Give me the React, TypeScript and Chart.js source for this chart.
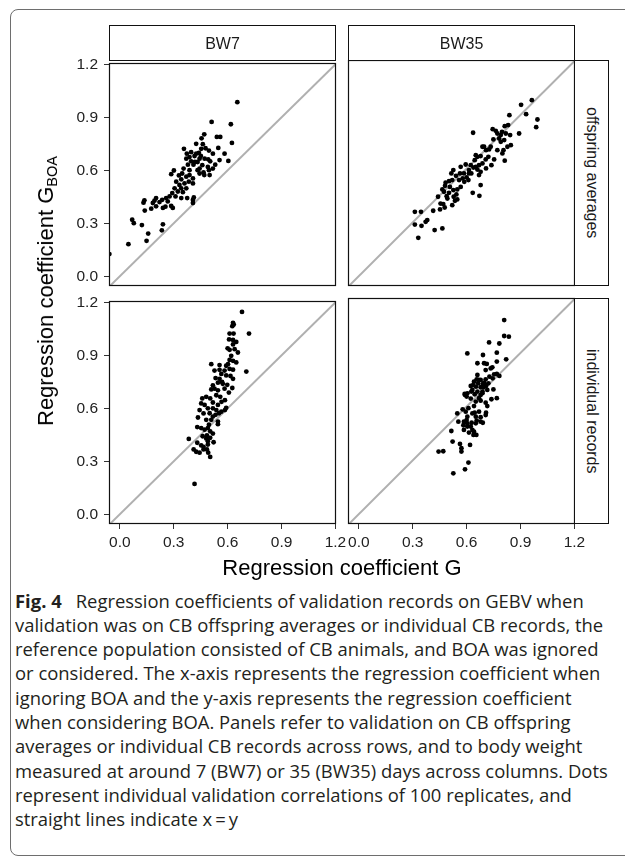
import React, { useEffect, useLayoutEffect, useRef, useState } from "react";
import { Chart, registerables } from "chart.js";

Chart.register(...registerables);

// ---------- data ----------
const columnLabels = ["BW7", "BW35"];
const rowLabels = ["offspring averages", "individual records"];
const tickValues = [0, 0.3, 0.6, 0.9, 1.2];
const xRange = [-0.06, 1.203];
const yRange = [-0.055, 1.206];
const identityLine = [-0.2, 1.4];

// BW7, validation on offspring averages: [G, G_BOA]
const bw7Averages: [number, number][] = [
  [0.654, 0.986], [0.618, 0.861], [0.511, 0.874], [0.624, 0.755], [0.604, 0.653], [0.54, 0.789], [0.559, 0.789], [0.47, 0.804], [0.455, 0.781], [0.548, 0.727],
  [0.518, 0.694], [0.555, 0.658], [0.531, 0.632], [0.462, 0.748], [0.357, 0.722], [0.44, 0.699], [0.425, 0.694], [0.451, 0.681], [0.416, 0.681], [0.388, 0.675],
  [0.37, 0.666], [0.397, 0.651], [0.379, 0.632], [0.41, 0.632], [0.433, 0.647], [0.459, 0.629], [0.49, 0.619], [0.444, 0.582], [0.466, 0.588], [0.496, 0.601],
  [0.518, 0.61], [0.286, 0.578], [0.347, 0.582], [0.37, 0.564], [0.342, 0.549], [0.407, 0.554], [0.384, 0.536], [0.314, 0.536], [0.332, 0.517], [0.36, 0.526],
  [0.407, 0.526], [0.305, 0.498], [0.342, 0.498], [0.37, 0.498], [0.292, 0.471], [0.323, 0.48], [0.351, 0.476], [0.277, 0.452], [0.31, 0.452], [0.258, 0.443],
  [0.236, 0.433], [0.221, 0.42], [0.202, 0.396], [0.193, 0.428], [0.24, 0.387], [0.254, 0.394], [0.286, 0.398], [0.295, 0.387], [0.407, 0.415], [0.412, 0.446],
  [0.407, 0.432], [0.137, 0.43], [0.132, 0.417], [0.175, 0.383], [0.184, 0.415], [0.139, 0.372], [0.069, 0.32], [0.078, 0.301], [0.123, 0.29], [0.24, 0.294],
  [0.234, 0.26], [0.158, 0.242], [0.149, 0.201], [0.048, 0.182], [-0.058, 0.126], [0.301, 0.599], [0.355, 0.61], [0.388, 0.601], [0.477, 0.725], [0.496, 0.712],
  [0.444, 0.666], [0.472, 0.666], [0.492, 0.662], [0.453, 0.722], [0.433, 0.601], [0.47, 0.573], [0.5, 0.573], [0.329, 0.571], [0.388, 0.573], [0.342, 0.443],
  [0.375, 0.443], [0.444, 0.61], [0.397, 0.703], [0.267, 0.424], [0.202, 0.443], [0.373, 0.694], [0.425, 0.75], [0.418, 0.647], [0.503, 0.651], [0.583, 0.694],
];

// BW35, validation on offspring averages
const bw35Averages: [number, number][] = [
  [0.963, 0.982], [0.903, 0.956], [0.931, 0.904], [0.994, 0.874], [0.987, 0.831], [0.838, 0.898], [0.892, 0.796], [0.745, 0.82], [0.762, 0.811], [0.79, 0.787],
  [0.812, 0.837], [0.831, 0.843], [0.781, 0.768], [0.797, 0.805], [0.842, 0.787], [0.636, 0.8], [0.749, 0.763], [0.734, 0.722], [0.688, 0.722], [0.708, 0.703],
  [0.846, 0.731], [0.827, 0.722], [0.805, 0.703], [0.799, 0.685], [0.812, 0.644], [0.753, 0.651], [0.738, 0.619], [0.678, 0.67], [0.651, 0.675], [0.645, 0.647],
  [0.688, 0.629], [0.708, 0.601], [0.669, 0.619], [0.66, 0.595], [0.638, 0.606], [0.595, 0.623], [0.567, 0.61], [0.613, 0.592], [0.626, 0.573], [0.678, 0.582],
  [0.669, 0.564], [0.6, 0.551], [0.578, 0.545], [0.587, 0.526], [0.61, 0.536], [0.526, 0.592], [0.515, 0.573], [0.541, 0.56], [0.483, 0.521], [0.502, 0.53],
  [0.52, 0.536], [0.48, 0.504], [0.507, 0.498], [0.465, 0.484], [0.526, 0.48], [0.548, 0.484], [0.678, 0.508], [0.634, 0.465], [0.671, 0.448], [0.441, 0.443],
  [0.489, 0.446], [0.493, 0.433], [0.543, 0.456], [0.548, 0.428], [0.47, 0.402], [0.452, 0.372], [0.478, 0.383], [0.414, 0.365], [0.312, 0.359], [0.346, 0.359],
  [0.381, 0.313], [0.372, 0.303], [0.312, 0.288], [0.349, 0.281], [0.422, 0.257], [0.465, 0.266], [0.331, 0.214], [0.52, 0.396], [0.535, 0.42], [0.567, 0.498],
  [0.623, 0.619], [0.651, 0.61], [0.721, 0.666], [0.706, 0.651], [0.771, 0.703], [0.79, 0.75], [0.818, 0.796], [0.771, 0.796], [0.66, 0.666], [0.613, 0.573],
  [0.563, 0.573], [0.502, 0.465], [0.528, 0.443], [0.455, 0.405], [0.697, 0.722], [0.725, 0.707], [0.585, 0.573], [0.558, 0.536], [0.474, 0.471], [0.809, 0.759],
];

// BW7, validation on individual records
const bw7Individual: [number, number][] = [
  [0.68, 1.146], [0.719, 1.023], [0.704, 0.808], [0.63, 1.084], [0.634, 1.074], [0.626, 1.065], [0.611, 1.023], [0.633, 1.023], [0.608, 0.99], [0.63, 0.987],
  [0.648, 0.976], [0.639, 0.935], [0.657, 0.916], [0.611, 0.931], [0.62, 0.897], [0.63, 0.869], [0.648, 0.86], [0.602, 0.85], [0.592, 0.841], [0.555, 0.845],
  [0.509, 0.85], [0.611, 0.823], [0.63, 0.819], [0.583, 0.814], [0.565, 0.795], [0.592, 0.786], [0.63, 0.767], [0.555, 0.767], [0.533, 0.771], [0.573, 0.739],
  [0.546, 0.745], [0.598, 0.733], [0.626, 0.715], [0.518, 0.73], [0.509, 0.707], [0.546, 0.702], [0.607, 0.689], [0.537, 0.674], [0.481, 0.665], [0.503, 0.656],
  [0.559, 0.665], [0.585, 0.646], [0.453, 0.628], [0.472, 0.619], [0.518, 0.633], [0.546, 0.619], [0.444, 0.59], [0.49, 0.6], [0.537, 0.59], [0.565, 0.581],
  [0.592, 0.603], [0.585, 0.59], [0.466, 0.571], [0.435, 0.548], [0.518, 0.553], [0.552, 0.572], [0.481, 0.535], [0.509, 0.535], [0.546, 0.525], [0.546, 0.51],
  [0.496, 0.507], [0.431, 0.494], [0.49, 0.488], [0.503, 0.47], [0.518, 0.457], [0.485, 0.447], [0.481, 0.429], [0.384, 0.427], [0.49, 0.414], [0.522, 0.408],
  [0.431, 0.405], [0.453, 0.39], [0.466, 0.382], [0.49, 0.395], [0.411, 0.367], [0.425, 0.354], [0.444, 0.349], [0.485, 0.367], [0.492, 0.349], [0.503, 0.325],
  [0.416, 0.172], [0.527, 0.814], [0.555, 0.818], [0.453, 0.488], [0.472, 0.479], [0.533, 0.563], [0.518, 0.6], [0.566, 0.637], [0.5, 0.572], [0.459, 0.656],
  [0.527, 0.711], [0.583, 0.711], [0.616, 0.783], [0.63, 0.962], [0.466, 0.367], [0.461, 0.442], [0.503, 0.433], [0.611, 0.874], [0.569, 0.749], [0.6, 0.94],
];

// BW35, validation on individual records
const bw35Individual: [number, number][] = [
  [0.809, 1.083], [0.809, 0.994], [0.835, 0.99], [0.725, 0.958], [0.782, 0.952], [0.604, 0.897], [0.691, 0.888], [0.768, 0.901], [0.82, 0.864], [0.768, 0.851],
  [0.697, 0.842], [0.712, 0.838], [0.734, 0.813], [0.743, 0.819], [0.706, 0.804], [0.753, 0.78], [0.768, 0.782], [0.782, 0.771], [0.727, 0.767], [0.706, 0.752],
  [0.678, 0.749], [0.656, 0.752], [0.641, 0.739], [0.664, 0.73], [0.69, 0.726], [0.623, 0.715], [0.652, 0.711], [0.678, 0.708], [0.708, 0.715], [0.749, 0.696],
  [0.632, 0.693], [0.66, 0.684], [0.688, 0.684], [0.604, 0.674], [0.645, 0.669], [0.678, 0.665], [0.589, 0.671], [0.6, 0.656], [0.623, 0.645], [0.768, 0.647],
  [0.738, 0.641], [0.678, 0.633], [0.706, 0.622], [0.641, 0.603], [0.61, 0.591], [0.578, 0.585], [0.715, 0.603], [0.708, 0.566], [0.706, 0.553], [0.632, 0.562],
  [0.645, 0.566], [0.604, 0.544], [0.585, 0.516], [0.554, 0.516], [0.678, 0.541], [0.656, 0.522], [0.69, 0.51], [0.651, 0.507], [0.582, 0.496], [0.604, 0.507],
  [0.623, 0.489], [0.632, 0.47], [0.613, 0.455], [0.638, 0.442], [0.654, 0.442], [0.515, 0.464], [0.522, 0.405], [0.563, 0.392], [0.619, 0.386], [0.571, 0.368],
  [0.571, 0.349], [0.444, 0.349], [0.47, 0.351], [0.61, 0.288], [0.591, 0.25], [0.526, 0.228], [0.591, 0.665], [0.667, 0.749], [0.66, 0.777], [0.697, 0.734],
  [0.721, 0.73], [0.626, 0.684], [0.669, 0.647], [0.651, 0.628], [0.595, 0.572], [0.669, 0.572], [0.6, 0.525], [0.628, 0.51], [0.548, 0.562], [0.688, 0.675],
  [0.641, 0.46], [0.585, 0.47], [0.693, 0.708], [0.715, 0.693], [0.745, 0.758], [0.66, 0.842], [0.604, 0.489], [0.678, 0.516], [0.651, 0.544], [0.636, 0.72],
];

const panelData = [
  [bw7Averages, bw35Averages],
  [bw7Individual, bw35Individual],
];

const captionLines = [
  "validation was on CB offspring averages or individual CB records, the",
  "reference population consisted of CB animals, and BOA was ignored",
  "or considered. The x-axis represents the regression coefficient when",
  "ignoring BOA and the y-axis represents the regression coefficient",
  "when considering BOA. Panels refer to validation on CB offspring",
  "averages or individual CB records across rows, and to body weight",
  "measured at around 7 (BW7) or 35 (BW35) days across columns. Dots",
  "represent individual validation correlations of 100 replicates, and",
];

// ---------- layout ----------
const FONT = "'Liberation Sans', Arial, Helvetica, sans-serif";
const colLeft = [109, 348];
const rowTop = [60, 298];
const PW = 227;
const PH = 226;
const PAD_L = 60;
const PAD_T = 12;
const PAD_R = 16;
const PAD_B = 40;

const panelBorder = {
  id: "panelBorder",
  afterDraw(chart: any) {
    const { ctx, chartArea } = chart;
    const { left, top, right, bottom } = chartArea;
    ctx.save();
    ctx.strokeStyle = "#111";
    ctx.lineWidth = 1.2;
    ctx.strokeRect(Math.round(left) + 0.5, Math.round(top) + 0.5, Math.round(right - left) - 1, Math.round(bottom - top) - 1);
    ctx.restore();
  },
};

type PanelProps = {
  points: [number, number][];
  left: number;
  top: number;
  showX: boolean;
  showY: boolean;
};

function Panel({ points, left, top, showX, showY }: PanelProps) {
  const ref = useRef<HTMLCanvasElement | null>(null);
  useEffect(() => {
    const canvas = ref.current;
    if (!canvas) return;
    const font = { family: FONT, size: 15.5 };
    const fixTicks = (axis: any) => {
      axis.ticks = tickValues.map((v) => ({ value: v }));
    };
    const chart = new Chart(canvas, {
      type: "scatter",
      data: {
        datasets: [
          {
            type: "scatter",
            data: points.map(([x, y]) => ({ x, y })),
            backgroundColor: "#000",
            borderWidth: 0,
            pointRadius: 2.4,
            pointHoverRadius: 2.4,
            clip: 0,
            order: 1,
          } as any,
          {
            type: "line",
            data: identityLine.map((v) => ({ x: v, y: v })),
            borderColor: "#b0b0b0",
            borderWidth: 2,
            pointRadius: 0,
            showLine: true,
            fill: false,
            clip: 0,
            order: 2,
          } as any,
        ],
      },
      options: {
        responsive: false,
        maintainAspectRatio: false,
        animation: false,
        devicePixelRatio: 1,
        events: [],
        layout: { padding: { left: 0, top: PAD_T, right: PAD_R, bottom: 0 } },
        plugins: {
          legend: { display: false },
          tooltip: { enabled: false },
          title: { display: false },
        },
        scales: {
          x: {
            type: "linear",
            bounds: "data",
            min: xRange[0],
            max: xRange[1],
            afterBuildTicks: fixTicks,
            afterFit: (s: any) => {
              s.height = PAD_B;
            },
            border: { display: false },
            grid: {
              display: showX,
              drawOnChartArea: false,
              drawTicks: true,
              tickLength: 5,
              color: "#333",
              lineWidth: 1,
            },
            ticks: {
              display: showX,
              padding: 4,
              color: "#222",
              font,
              maxRotation: 0,
              autoSkip: false,
              callback: (v: any) => Number(v).toFixed(1),
            },
          },
          y: {
            type: "linear",
            bounds: "data",
            min: yRange[0],
            max: yRange[1],
            afterBuildTicks: fixTicks,
            afterFit: (s: any) => {
              s.width = PAD_L;
            },
            border: { display: false },
            grid: {
              display: showY,
              drawOnChartArea: false,
              drawTicks: true,
              tickLength: 5,
              color: "#333",
              lineWidth: 1,
            },
            ticks: {
              display: showY,
              padding: 6,
              color: "#222",
              font,
              autoSkip: false,
              callback: (v: any) => Number(v).toFixed(1),
            },
          },
        },
      } as any,
      plugins: [panelBorder],
    });
    return () => chart.destroy();
  }, [points, showX, showY]);

  const w = PW + PAD_L + PAD_R;
  const h = PH + PAD_T + PAD_B;
  return (
    <canvas
      ref={ref}
      width={w}
      height={h}
      style={{ position: "absolute", left: left - PAD_L, top: top - PAD_T, width: w, height: h }}
    />
  );
}

function Caption() {
  const measureRef = useRef<HTMLSpanElement | null>(null);
  const [scale, setScale] = useState(0.9);
  useLayoutEffect(() => {
    const el = measureRef.current;
    if (el && el.offsetWidth > 0) setScale(588 / el.offsetWidth);
  }, []);
  const lineStyle: React.CSSProperties = {
    height: 24.3,
    lineHeight: "24.3px",
    whiteSpace: "nowrap",
    transformOrigin: "0 0",
    transform: `scaleX(${scale})`,
  };
  return (
    <div
      style={{
        position: "absolute",
        left: 15,
        top: 588.6,
        fontFamily: "'Open Sans', 'Noto Sans', sans-serif",
        fontSize: 18.4,
        color: "#231f20",
      }}
    >
      <div style={lineStyle}>
        <span style={{ fontWeight: 700 }}>Fig. 4</span>
        {"\u2002 Regression coefficients of validation records on GEBV when"}
      </div>
      {captionLines.map((t, i) => (
        <div key={i} style={lineStyle}>
          <span ref={i === 0 ? measureRef : undefined}>{t}</span>
        </div>
      ))}
      <div style={lineStyle}>{"straight lines indicate x\u2009=\u2009y"}</div>
    </div>
  );
}

export default function App() {
  const stripStyle: React.CSSProperties = {
    position: "absolute",
    boxSizing: "border-box",
    border: "1px solid #111",
    background: "#fff",
    display: "flex",
    alignItems: "center",
    justifyContent: "center",
    fontFamily: FONT,
    fontSize: 16,
    color: "#1a1a1a",
  };
  return (
    <div
      style={{
        position: "absolute",
        left: 0,
        top: 0,
        width: 625,
        height: 862,
        overflow: "hidden",
        background: "#fff",
      }}
    >
      {/* figure frame */}
      <div
        style={{
          position: "absolute",
          left: 10,
          top: 9,
          width: 660,
          height: 847,
          boxSizing: "border-box",
          border: "1px solid #6e6e6e",
          borderRadius: 8,
        }}
      />
      {panelData.map((row, r) =>
        row.map((pts, c) => (
          <Panel
            key={`${r}-${c}`}
            points={pts}
            left={colLeft[c]}
            top={rowTop[r]}
            showX={r === 1}
            showY={c === 0}
          />
        ))
      )}
      {columnLabels.map((lab, c) => (
        <div
          key={lab}
          style={{ ...stripStyle, left: colLeft[c], top: 25, width: PW, height: 36 }}
        >
          <span style={{ position: "relative", top: 1 }}>{lab}</span>
        </div>
      ))}
      {rowLabels.map((lab, r) => (
        <div
          key={lab}
          style={{ ...stripStyle, left: colLeft[1] + PW - 1, top: rowTop[r], width: 35, height: PH }}
        >
          <span style={{ writingMode: "vertical-rl", whiteSpace: "nowrap" }}>{lab}</span>
        </div>
      ))}
      {/* x-axis title */}
      <div
        style={{
          position: "absolute",
          left: 342,
          top: 557,
          transform: "translateX(-50%)",
          fontFamily: FONT,
          fontSize: 22,
          lineHeight: "22px",
          whiteSpace: "nowrap",
          color: "#000",
        }}
      >
        Regression coefficient G
      </div>
      {/* y-axis title */}
      <div
        style={{
          position: "absolute",
          left: 47,
          top: 291,
          transform: "translate(-50%, -50%) rotate(-90deg)",
          fontFamily: FONT,
          fontSize: 22,
          lineHeight: "22px",
          whiteSpace: "nowrap",
          color: "#000",
        }}
      >
        Regression coefficient G
        <span style={{ fontSize: 14.5, position: "relative", top: 4 }}>BOA</span>
      </div>
      <Caption />
    </div>
  );
}
